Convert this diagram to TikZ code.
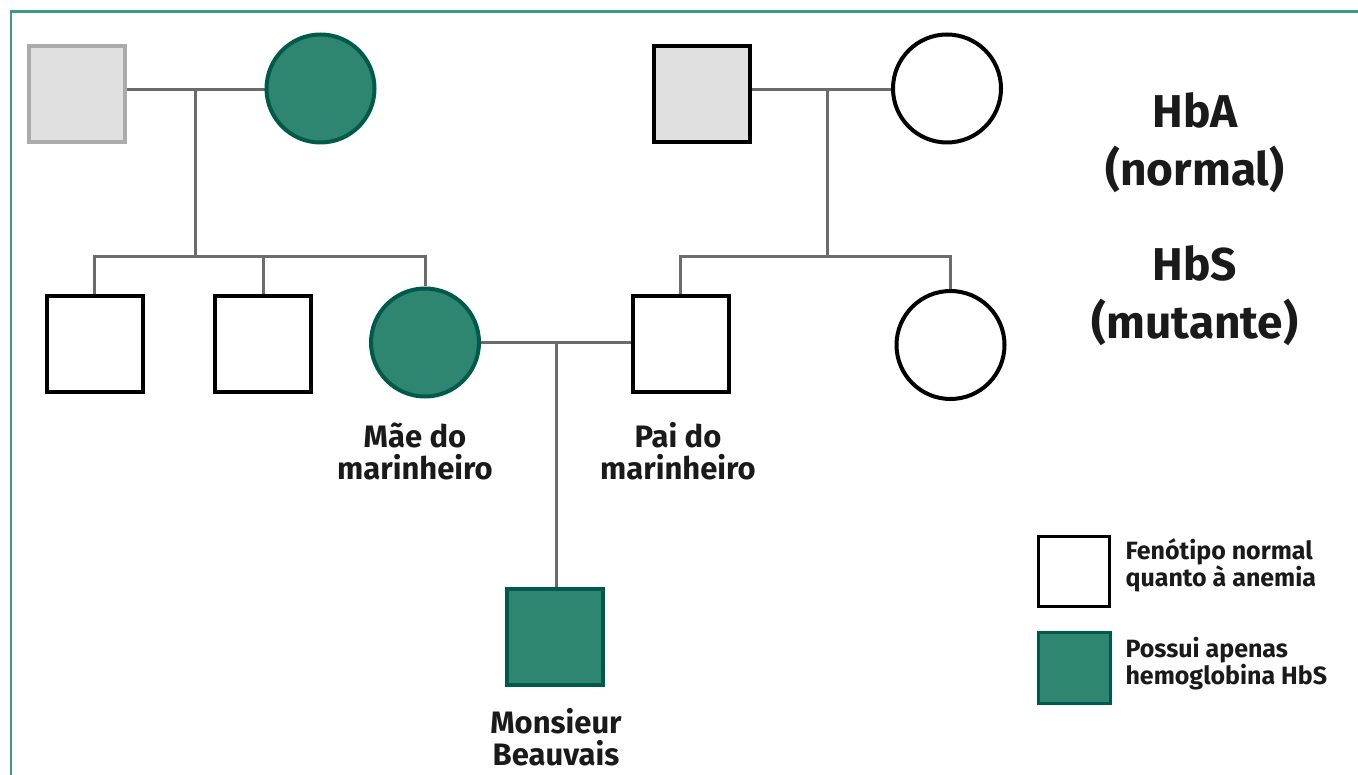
\documentclass[tikz,border=0pt]{standalone}
\usepackage{fontspec}
\setmainfont{Fira Sans}
\usetikzlibrary{backgrounds}
\definecolor{affect}{HTML}{2E8570}
\definecolor{affectline}{HTML}{005A4C}
\definecolor{carrier}{HTML}{E0E0E0}
\definecolor{conn}{HTML}{6B6B6B}
\definecolor{frame}{HTML}{3E9A83}
\definecolor{txt}{HTML}{1A1A1A}
\tikzset{
  male/.style={rectangle, draw=black, line width=4pt, fill=white, minimum size=96pt, inner sep=0pt},
  female/.style={circle, draw=black, line width=4pt, fill=white, minimum size=108pt, inner sep=0pt},
  aff/.style={fill=affect, draw=affectline},
  carr/.style={fill=carrier},
  link/.style={draw=conn, line width=3pt},
  lbl/.style={font=\fontsize{31}{32}\selectfont\bfseries, text=txt, align=center},
  big/.style={font=\fontsize{46}{58}\selectfont\bfseries, text=txt, align=center},
  leg/.style={font=\fontsize{25}{27}\selectfont\bfseries, text=txt, align=left, anchor=west},
}
\begin{document}
\begin{tikzpicture}[x=1pt,y=-1pt]
\useasboundingbox (0,0) rectangle (1358,775);
\draw[frame, line width=2.5pt] (11,780) -- (11,11.5) -- (1362,11.5);
% generation I
\node[male, carr, draw=black!33] (gf1) at (76.5,94) {};
\node[female, aff] (gm1) at (320.5,88.5) {};
\node[male, carr] (gf2) at (701.5,94) {};
\node[female] (gm2) at (947,88.5) {};
% generation II
\node[male] (u1) at (94.5,344) {};
\node[male] (u2) at (263,344) {};
\node[female, aff] (mo) at (425,342.5) {};
\node[male] (fa) at (680.5,344) {};
\node[female] (au) at (950.5,345) {};
% generation III
\node[male, aff] (mb) at (554.5,637) {};
% connectors
\coordinate (j1) at (195,90);
\coordinate (s1) at (195,257);
\coordinate (j2) at (827,90);
\coordinate (s2) at (827,257);
\coordinate (j3) at (556,343);
\begin{scope}[on background layer]
\draw[link] (gf1 |- j1) -- (gm1 |- j1);
\draw[link] (gf2 |- j2) -- (gm2 |- j2);
\draw[link] (mo |- j3) -- (fa |- j3);
\draw[link] (j1) -- (s1);
\draw[link] (j2) -- (s2);
\draw[link] (u1) -- (u1 |- s1) -- (mo |- s1) -- (mo);
\draw[link] (u2) -- (u2 |- s1);
\draw[link] (fa) -- (fa |- s2) -- (au |- s2) -- (au);
\draw[link] (j3) -- (j3 |- mb.north);
\end{scope}
% labels
\node[lbl] (lmo) at (415,451) {Mãe do\\marinheiro};
\node[lbl] (lfa) at (678,451) {Pai do\\marinheiro};
\node[lbl] (lmb) at (556,737) {Monsieur\\Beauvais};
\node[big] (hba) at (1195,143) {HbA\\(normal)};
\node[big] (hbs) at (1195,296) {HbS\\(mutante)};
% legend
\node[rectangle, draw=black, line width=3.5pt, fill=white, minimum width=71pt, minimum height=70pt, inner sep=0pt] (k1) at (1074,571.5) {};
\node[rectangle, draw=affectline, line width=3.5pt, fill=affect, minimum width=72pt, minimum height=71pt, inner sep=0pt] (k2) at (1074.5,668) {};
\node[leg] (t1) at (1122,565) {Fenótipo normal\\quanto à anemia};
\node[leg] (t2) at (1122,664) {Possui apenas\\hemoglobina HbS};
\end{tikzpicture}
\end{document}
